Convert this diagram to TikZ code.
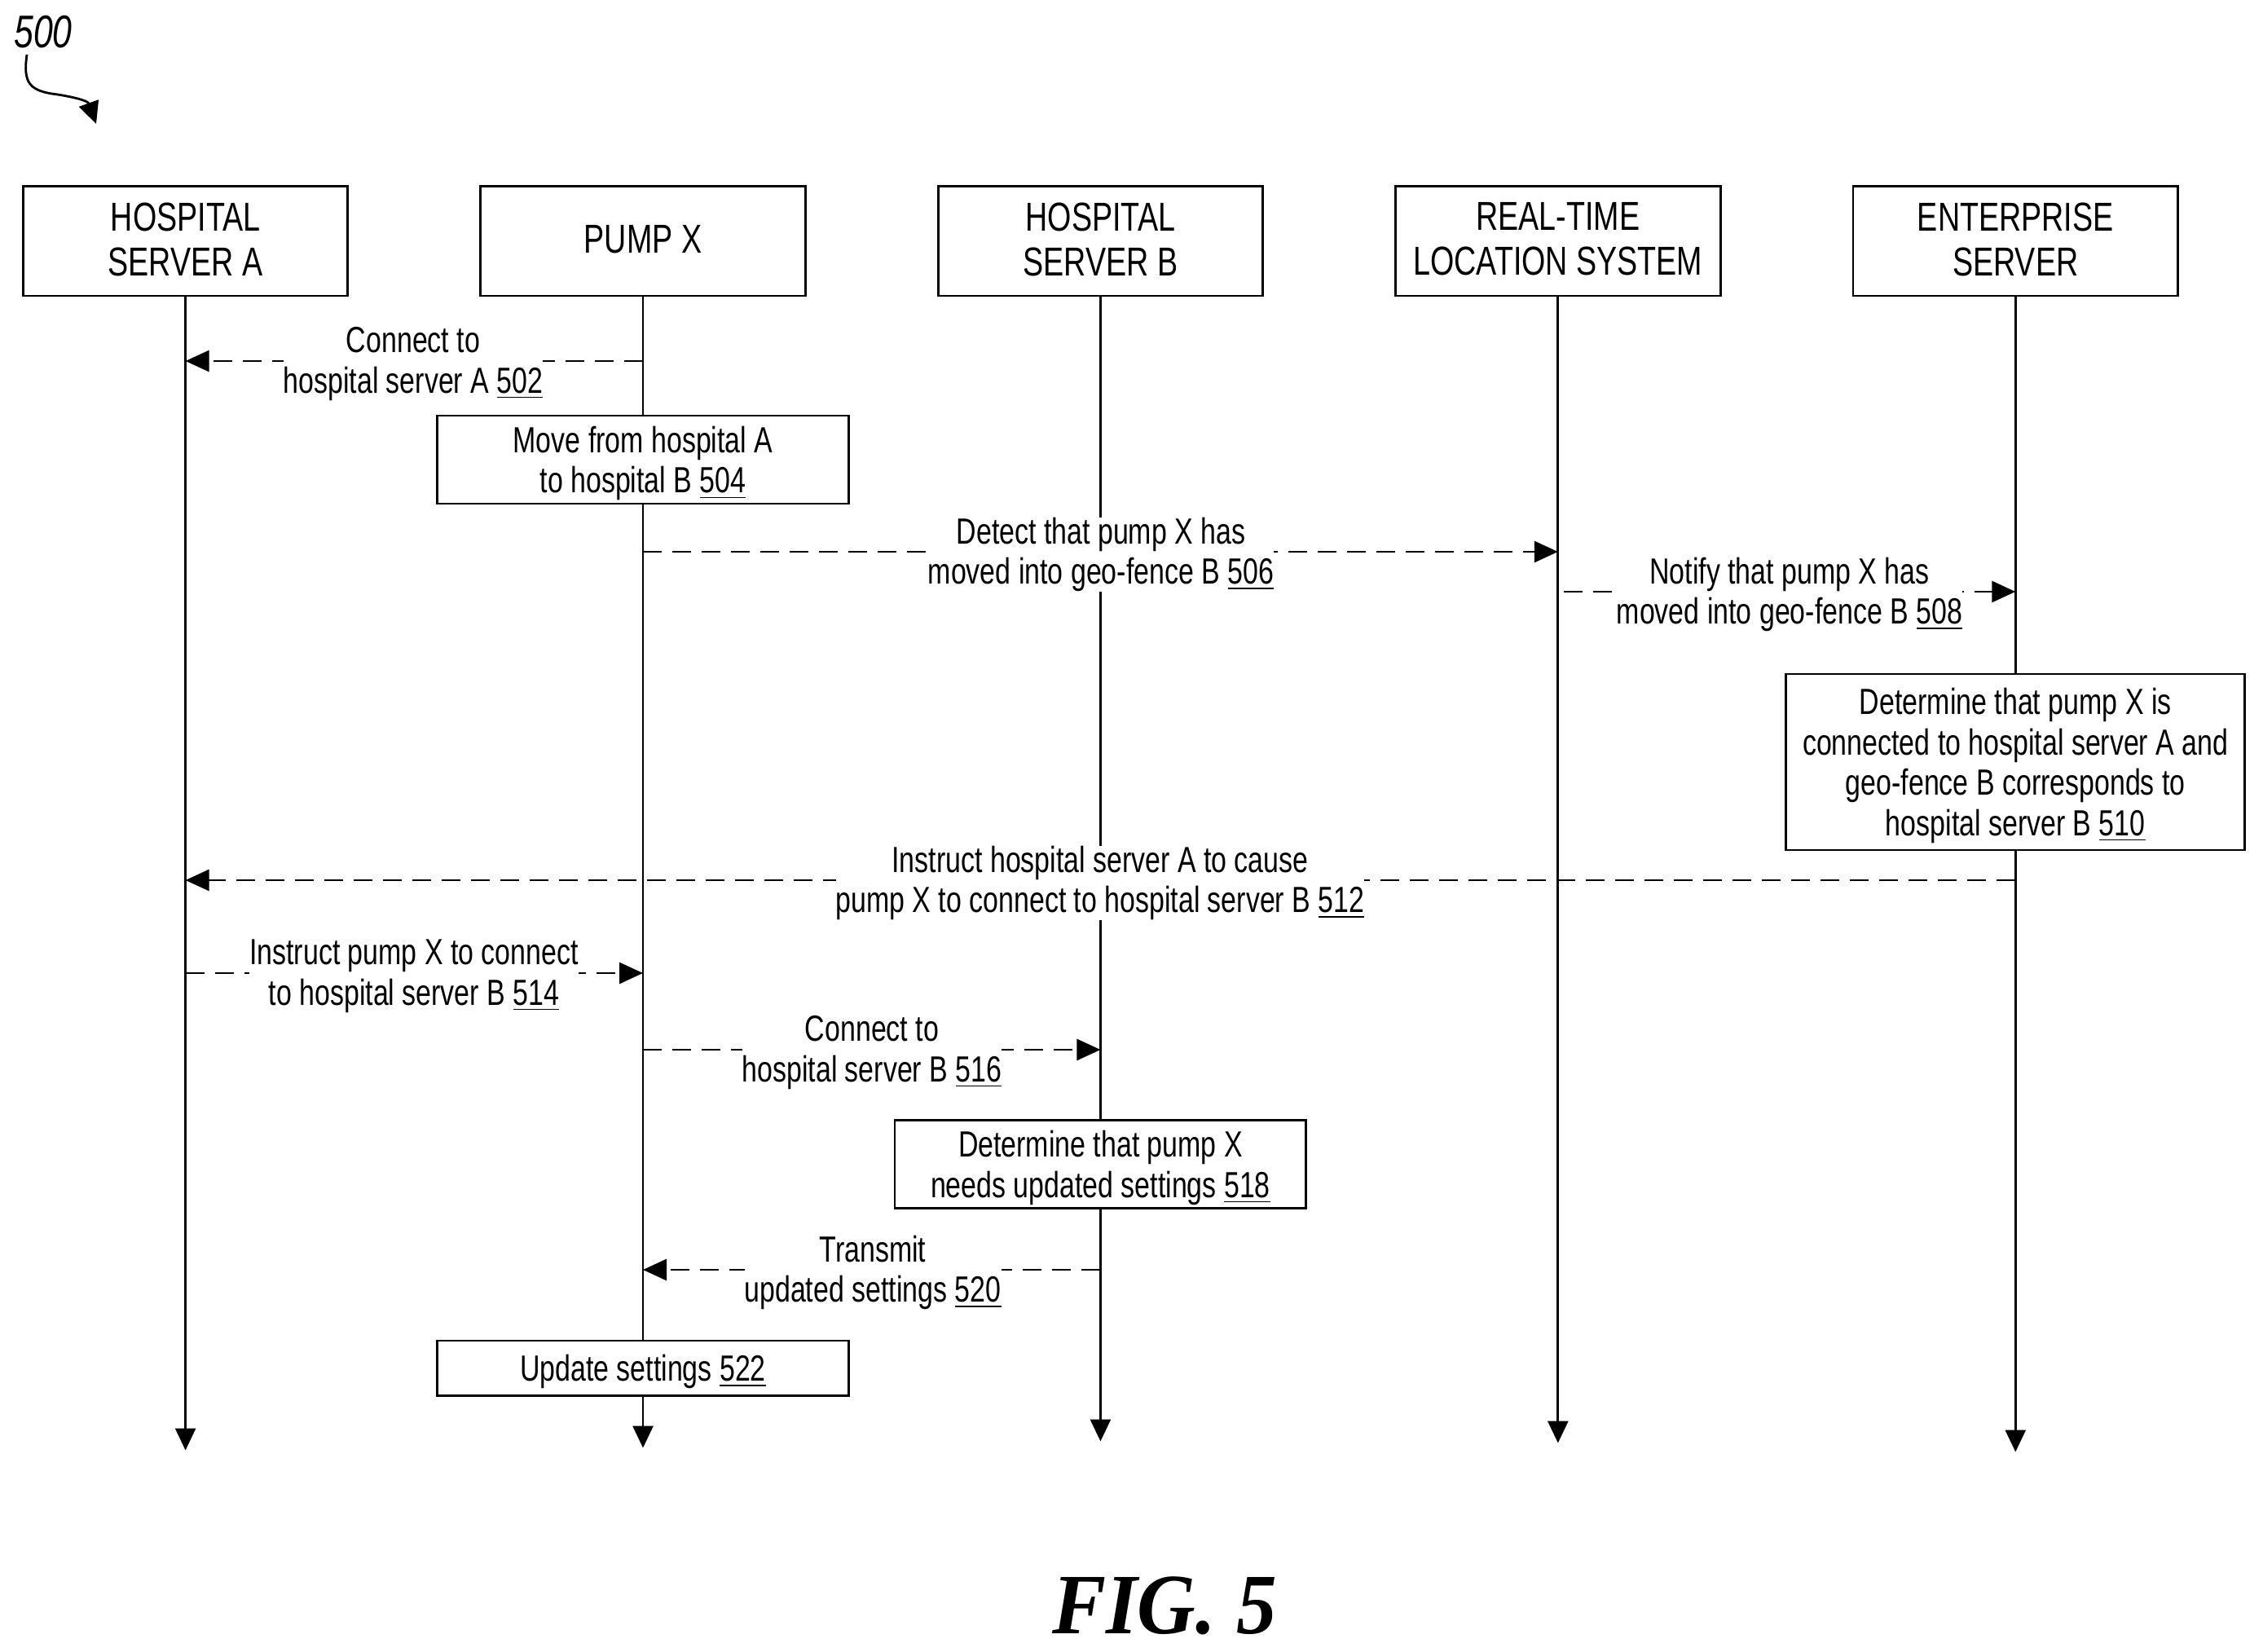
\documentclass[tikz,border=0pt]{standalone}
\usepackage{fontspec}
\setmainfont[FakeStretch=0.76]{Liberation Sans}
\newfontfamily\figfont[FakeStretch=0.94]{Liberation Serif}
\usetikzlibrary{positioning,backgrounds,arrows.meta}
\tikzset{header/.style={rectangle, draw=black, line width=0.8pt, fill=white,
    text centered, align=center, minimum width=3.985cm, minimum height=1.346cm,
    text depth=0.05cm, font=\fontsize{14.1}{15.6}\selectfont},
  process/.style={rectangle, draw=black, line width=0.8pt, fill=white,
    align=center, minimum height=1.08cm, minimum width=5.047cm, inner ysep=0.05cm,
    text depth=0pt, font=\fontsize{12.7}{14.1}\selectfont},
  msglabel/.style={fill=white, align=center, inner sep=0pt,
    font=\fontsize{12.7}{14.1}\selectfont},
  lifeline/.style={-{Triangle[length=0.27cm,width=0.25cm]}, line width=0.8pt},
  msgarrow/.style={-{Triangle[length=0.29cm,width=0.26cm]}, line width=0.8pt,
    dash pattern=on 0.23cm off 0.13cm, transform canvas={yshift=0.035cm}}
}

\begin{document}
\begin{tikzpicture}[node distance=1.601cm]

   \useasboundingbox (0,0) rectangle (27.77,-20.27);

   %Header nodes
   \node (Server-A) [header] at (2.276,-2.958) {HOSPITAL\\SERVER A};
   \node (Pump-X) [header, right=of Server-A] {PUMP X};
   \node (Server-B) [header, right=of Pump-X] {HOSPITAL\\SERVER B};
   \node (RTLS) [header, right=of Server-B] {REAL-TIME\\LOCATION SYSTEM};
   \node (Enterprise) [header, right=of RTLS] {ENTERPRISE\\SERVER};

   %Lifeline ends
   \coordinate [below=14.15cm of Server-A.south] (End-A);
   \coordinate [below=14.12cm of Pump-X.south] (End-X);
   \coordinate [below=14.04cm of Server-B.south] (End-B);
   \coordinate [below=14.06cm of RTLS.south] (End-R);
   \coordinate [below=14.17cm of Enterprise.south] (End-E);

   %Process nodes
   \node (Move) [process, below=1.44cm of Pump-X] {Move from hospital A\\to hospital B \underline{504}};
   \node (Determine-A) [process, minimum width=5.63cm, minimum height=2.16cm, below=4.61cm of Enterprise]
   {Determine that pump X is\\connected to hospital server A and\\geo-fence B corresponds to\\hospital server B \underline{510}};
   \node (Determine-B) [process, below=10.085cm of Server-B] {Determine that pump X\\needs updated settings \underline{518}};
   \node (Update) [process, minimum height=0.673cm, below=12.79cm of Pump-X] {Update settings \underline{522}};

   %Message labels
   \node (Msg-502) [msglabel] at (5.07,-4.465) {Connect to\\hospital server A \underline{502}};
   \node (Msg-506) [msglabel] at (13.51,-6.805) {Detect that pump X has\\moved into geo-fence B \underline{506}};
   \node (Msg-508) [msglabel] at (21.96,-7.295) {Notify that pump X has\\moved into geo-fence B \underline{508}};
   \node (Msg-512) [msglabel] at (13.50,-10.835) {Instruct hospital server A to cause\\pump X to connect to hospital server B \underline{512}};
   \node (Msg-514) [msglabel] at (5.08,-11.975) {Instruct pump X to connect\\to hospital server B \underline{514}};
   \node (Msg-516) [msglabel] at (10.70,-12.915) {Connect to\\hospital server B \underline{516}};
   \node (Msg-520) [msglabel] at (10.71,-15.615) {Transmit\\updated settings \underline{520}};

   %Reference numeral
   \node (Ref-500) at (0.53,-0.39) {\fontsize{16}{18}\selectfont\itshape 500};
   \coordinate (Ref-Start) at (0.33,-0.67);
   \coordinate (Ref-Bend) at (0.71,-1.16);
   \coordinate (Ref-Tip) at (1.18,-1.52);
   \draw[line width=0.8pt, -{Triangle[length=0.27cm,width=0.25cm]}] (Ref-Start)
     .. controls (0.28,-1.02) and (0.36,-1.12) .. (Ref-Bend)
     .. controls (0.95,-1.20) and (1.08,-1.24) .. (Ref-Tip);

   %Figure title
   \node (Fig-5) at (14.29,-19.70) {\figfont\fontsize{30}{32}\selectfont\bfseries\itshape FIG. 5};

   %Lines go under the boxes and labels
   \begin{scope}[on background layer]
   \draw[lifeline] (Server-A) -- (End-A);
   \draw[lifeline] (Pump-X) -- (End-X);
   \draw[lifeline] (Server-B) -- (End-B);
   \draw[lifeline] (RTLS) -- (End-R);
   \draw[lifeline] (Enterprise) -- (End-E);

   \draw[msgarrow] (Pump-X |- Msg-502) -- (Server-A |- Msg-502);
   \draw[msgarrow] (Pump-X |- Msg-506) -- (RTLS |- Msg-506);
   \draw[msgarrow, shorten <=0.07cm] (RTLS |- Msg-508) -- (Enterprise |- Msg-508);
   \draw[msgarrow] (Enterprise |- Msg-512) -- (Server-A |- Msg-512);
   \draw[msgarrow] (Server-A |- Msg-514) -- (Pump-X |- Msg-514);
   \draw[msgarrow] (Pump-X |- Msg-516) -- (Server-B |- Msg-516);
   \draw[msgarrow] (Server-B |- Msg-520) -- (Pump-X |- Msg-520);
   \end{scope}

\end{tikzpicture}
\end{document}
